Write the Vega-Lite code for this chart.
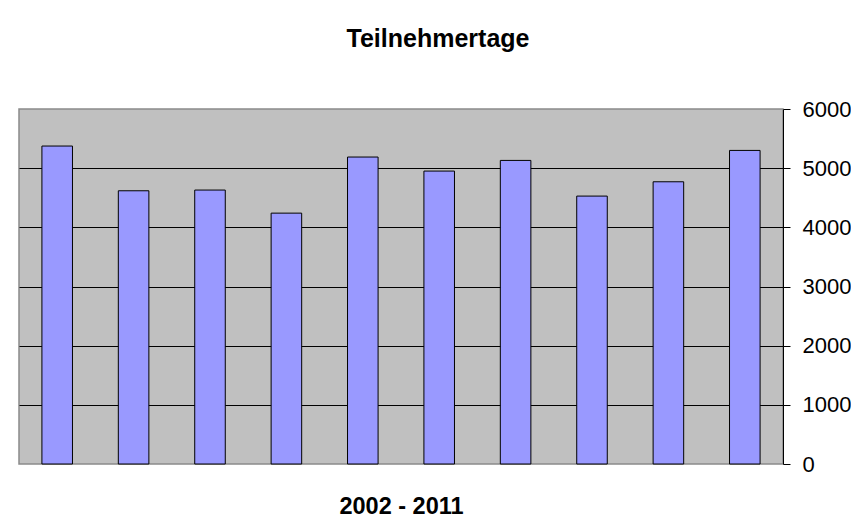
{
  "$schema": "https://vega.github.io/schema/vega-lite/v6.json",
  "width": 764,
  "height": 355,
  "autosize": {"type": "pad"},
  "padding": {"left": 19, "top": 27, "right": 0, "bottom": 0},
  "background": "white",
  "title": {
    "text": "Teilnehmertage",
    "font": "Liberation Sans",
    "fontSize": 25,
    "fontWeight": "bold",
    "color": "#000000",
    "anchor": "middle",
    "offset": 46,
    "dx": 37
  },
  "data": {
    "values": [
      {"Jahr": "2002", "Teilnehmertage": 5374},
      {"Jahr": "2003", "Teilnehmertage": 4618},
      {"Jahr": "2004", "Teilnehmertage": 4630},
      {"Jahr": "2005", "Teilnehmertage": 4240},
      {"Jahr": "2006", "Teilnehmertage": 5188},
      {"Jahr": "2007", "Teilnehmertage": 4951},
      {"Jahr": "2008", "Teilnehmertage": 5131},
      {"Jahr": "2009", "Teilnehmertage": 4528},
      {"Jahr": "2010", "Teilnehmertage": 4770},
      {"Jahr": "2011", "Teilnehmertage": 5300}
    ]
  },
  "mark": {"type": "bar", "fill": "#9999FF", "stroke": "#000000", "strokeWidth": 1},
  "encoding": {
    "x": {
      "field": "Jahr",
      "type": "nominal",
      "scale": {"paddingInner": 0.6, "paddingOuter": 0.3},
      "axis": {
        "labels": false,
        "ticks": false,
        "domain": false,
        "title": "2002 - 2011",
        "titleFont": "Liberation Sans",
        "titleFontSize": 23.5,
        "titleFontWeight": "bold",
        "titleColor": "#000000",
        "titlePadding": 30
      }
    },
    "y": {
      "field": "Teilnehmertage",
      "type": "quantitative",
      "scale": {"domain": [0, 6000], "nice": false},
      "axis": {
        "orient": "right",
        "title": null,
        "values": [0, 1000, 2000, 3000, 4000, 5000, 6000],
        "format": "d",
        "grid": true,
        "gridColor": {"condition": {"test": "datum.value === 0 || datum.value === 6000", "value": "transparent"}, "value": "#000000"},
        "gridWidth": 1,
        "domain": true,
        "domainColor": "#000000",
        "domainWidth": 1,
        "ticks": true,
        "tickColor": "#000000",
        "tickSize": 7,
        "labelPadding": 12,
        "labelFont": "Liberation Sans",
        "labelFontSize": 22,
        "labelColor": "#000000"
      }
    }
  },
  "config": {
    "view": {"fill": "#C0C0C0", "stroke": "#8a8a8a", "strokeWidth": 1.5}
  }
}
